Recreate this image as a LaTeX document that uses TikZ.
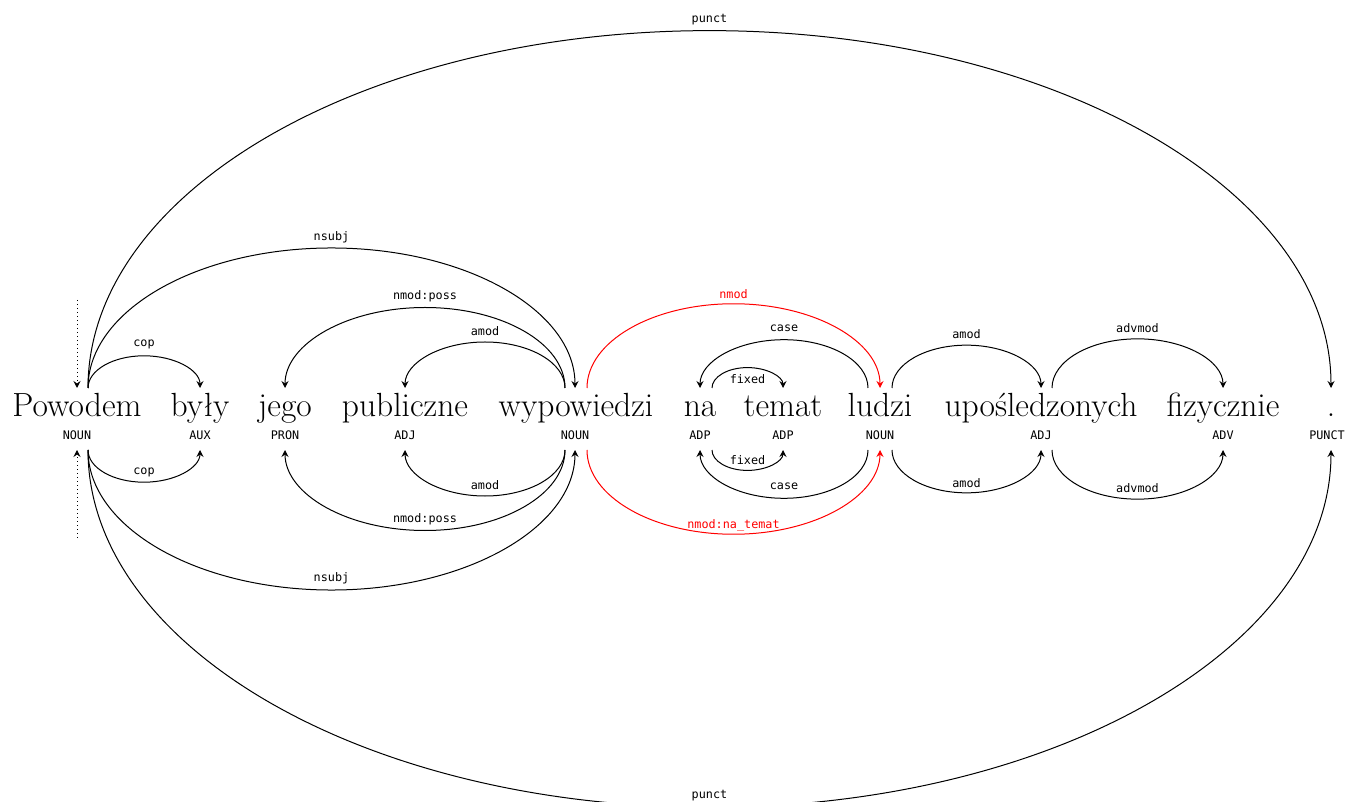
\documentclass[tikz,border=0pt]{standalone}
\usepackage{fontspec}
\newfontfamily\monof{DejaVu Sans Mono}
\usetikzlibrary{arrows.meta,calc}
\tikzset{
  dep/.style={line width=1pt, -{Stealth[length=7pt,width=7pt,inset=2.5pt]}},
  rootarrow/.style={line width=1pt, dash pattern=on 1pt off 3pt, -{Stealth[length=7pt,width=7pt,inset=2.5pt]}},
  lab/.style={font=\monof\fontsize{11.8}{12}\selectfont, inner sep=0pt},
  word/.style={font=\fontsize{33.5}{33.5}\selectfont, anchor=base, inner sep=0pt},
  tag/.style={font=\monof\fontsize{11.8}{12}\selectfont, inner sep=0pt}
}
% #1 colour, #2 from, #3 to, #4 label, #5 label shift ; arcs above the words
\newcommand\arcA[5][black]{%
  \draw[dep,#1] let \p1=(#2), \p2=(#3), \n1={(\x2-\x1)/2}, \n2={0.2875*abs(\x2-\x1)} in
    (\p1) .. controls ({\x1},{\y1+0.5523*\n2}) and ({\x1+0.4477*\n1},{\y1+\n2}) .. ({\x1+\n1},{\y1+\n2})
    node[lab,#1,yshift=#5]{#4}
    .. controls ({\x1+1.5523*\n1},{\y1+\n2}) and ({\x2},{\y1+0.5523*\n2}) .. (\p2);
}
% arcs below the tags
\newcommand\arcB[5][black]{%
  \draw[dep,#1] let \p1=(#2), \p2=(#3), \n1={(\x2-\x1)/2}, \n2={0.2875*abs(\x2-\x1)} in
    (\p1) .. controls ({\x1},{\y1-0.5523*\n2}) and ({\x1+0.4477*\n1},{\y1-\n2}) .. ({\x1+\n1},{\y1-\n2})
    node[lab,#1,yshift=#5]{#4}
    .. controls ({\x1+1.5523*\n1},{\y1-\n2}) and ({\x2},{\y1-0.5523*\n2}) .. (\p2);
}
\begin{document}
\begin{tikzpicture}[x=1pt,y=1pt]
\useasboundingbox (0,0) rectangle (1346,801);
% words
\node[word] (w1) at (77,384) {Powodem};
\node[word] (w2) at (200,384) {były};
\node[word] (w3) at (285,384) {jego};
\node[word] (w4) at (405,384) {publiczne};
\node[word] (w5) at (576,384) {wypowiedzi};
\node[word] (w6) at (700,384) {na};
\node[word] (w7) at (783,384) {temat};
\node[word] (w8) at (880,384) {ludzi};
\node[word] (w9) at (1041,384) {upośledzonych};
\node[word] (w10) at (1223,384) {fizycznie};
\node[word] (w11) at (1331,384) {.};
% tags
\node[tag] (t1) at (77,366) {NOUN};
\node[tag] (t2) at (200,366) {AUX};
\node[tag] (t3) at (285,366) {PRON};
\node[tag] (t4) at (405,366) {ADJ};
\node[tag] (t5) at (575,366) {NOUN};
\node[tag] (t6) at (700,366) {ADP};
\node[tag] (t7) at (783,366) {ADP};
\node[tag] (t8) at (880,366) {NOUN};
\node[tag] (t9) at (1041,366) {ADJ};
\node[tag] (t10) at (1223,366) {ADV};
\node[tag] (t11) at (1327,366) {PUNCT};
% arc end points above (a) and below (b)
\foreach \i in {1,...,10}{
  \coordinate (a\i) at ($(t\i.center)+(0,47)$);
  \coordinate (b\i) at ($(t\i.center)+(0,-15)$);
}
\coordinate (a11) at ($(w11.base)+(0,29)$);
\coordinate (b11) at ($(w11.base)+(0,-33)$);
\coordinate (a1r) at ($(a1)+(11,0)$);   \coordinate (b1r) at ($(b1)+(11,0)$);
\coordinate (a5l) at ($(a5)+(-10,0)$);  \coordinate (b5l) at ($(b5)+(-10,0)$);
\coordinate (a5r) at ($(a5)+(12,0)$);   \coordinate (b5r) at ($(b5)+(12,0)$);
\coordinate (a6r) at ($(a6)+(12,0)$);   \coordinate (b6r) at ($(b6)+(12,0)$);
\coordinate (a8l) at ($(a8)+(-12,0)$);  \coordinate (b8l) at ($(b8)+(-12,0)$);
\coordinate (a8r) at ($(a8)+(12,0)$);   \coordinate (b8r) at ($(b8)+(12,0)$);
\coordinate (a9r) at ($(a9)+(11,0)$);   \coordinate (b9r) at ($(b9)+(11,0)$);
% root markers
\coordinate (ra) at ($(a1)+(0,88)$);
\coordinate (rb) at ($(b1)+(0,-88)$);
\draw[rootarrow] (ra) -- (a1);
\draw[rootarrow] (rb) -- (b1);
% arcs above
\arcA{a1r}{a2}{cop}{11pt}
\arcA{a1r}{a5}{nsubj}{11pt}
\arcA{a1r}{a11}{punct}{11pt}
\arcA{a5l}{a3}{nmod:poss}{11pt}
\arcA{a5l}{a4}{amod}{11pt}
\arcA[red]{a5r}{a8}{nmod}{10pt}
\arcA{a8l}{a6}{case}{11pt}
\arcA{a6r}{a7}{fixed}{-12pt}
\arcA{a8r}{a9}{amod}{11pt}
\arcA{a9r}{a10}{advmod}{11pt}
% arcs below
\arcB{b1r}{b2}{cop}{10pt}
\arcB{b1r}{b5}{nsubj}{12pt}
\arcB{b1r}{b11}{punct}{12pt}
\arcB{b5l}{b3}{nmod:poss}{11pt}
\arcB{b5l}{b4}{amod}{11pt}
\arcB[red]{b5r}{b8}{nmod:na\_temat}{9pt}
\arcB{b8l}{b6}{case}{12pt}
\arcB{b6r}{b7}{fixed}{10pt}
\arcB{b8r}{b9}{amod}{10pt}
\arcB{b9r}{b10}{advmod}{11pt}
\end{tikzpicture}
\end{document}
